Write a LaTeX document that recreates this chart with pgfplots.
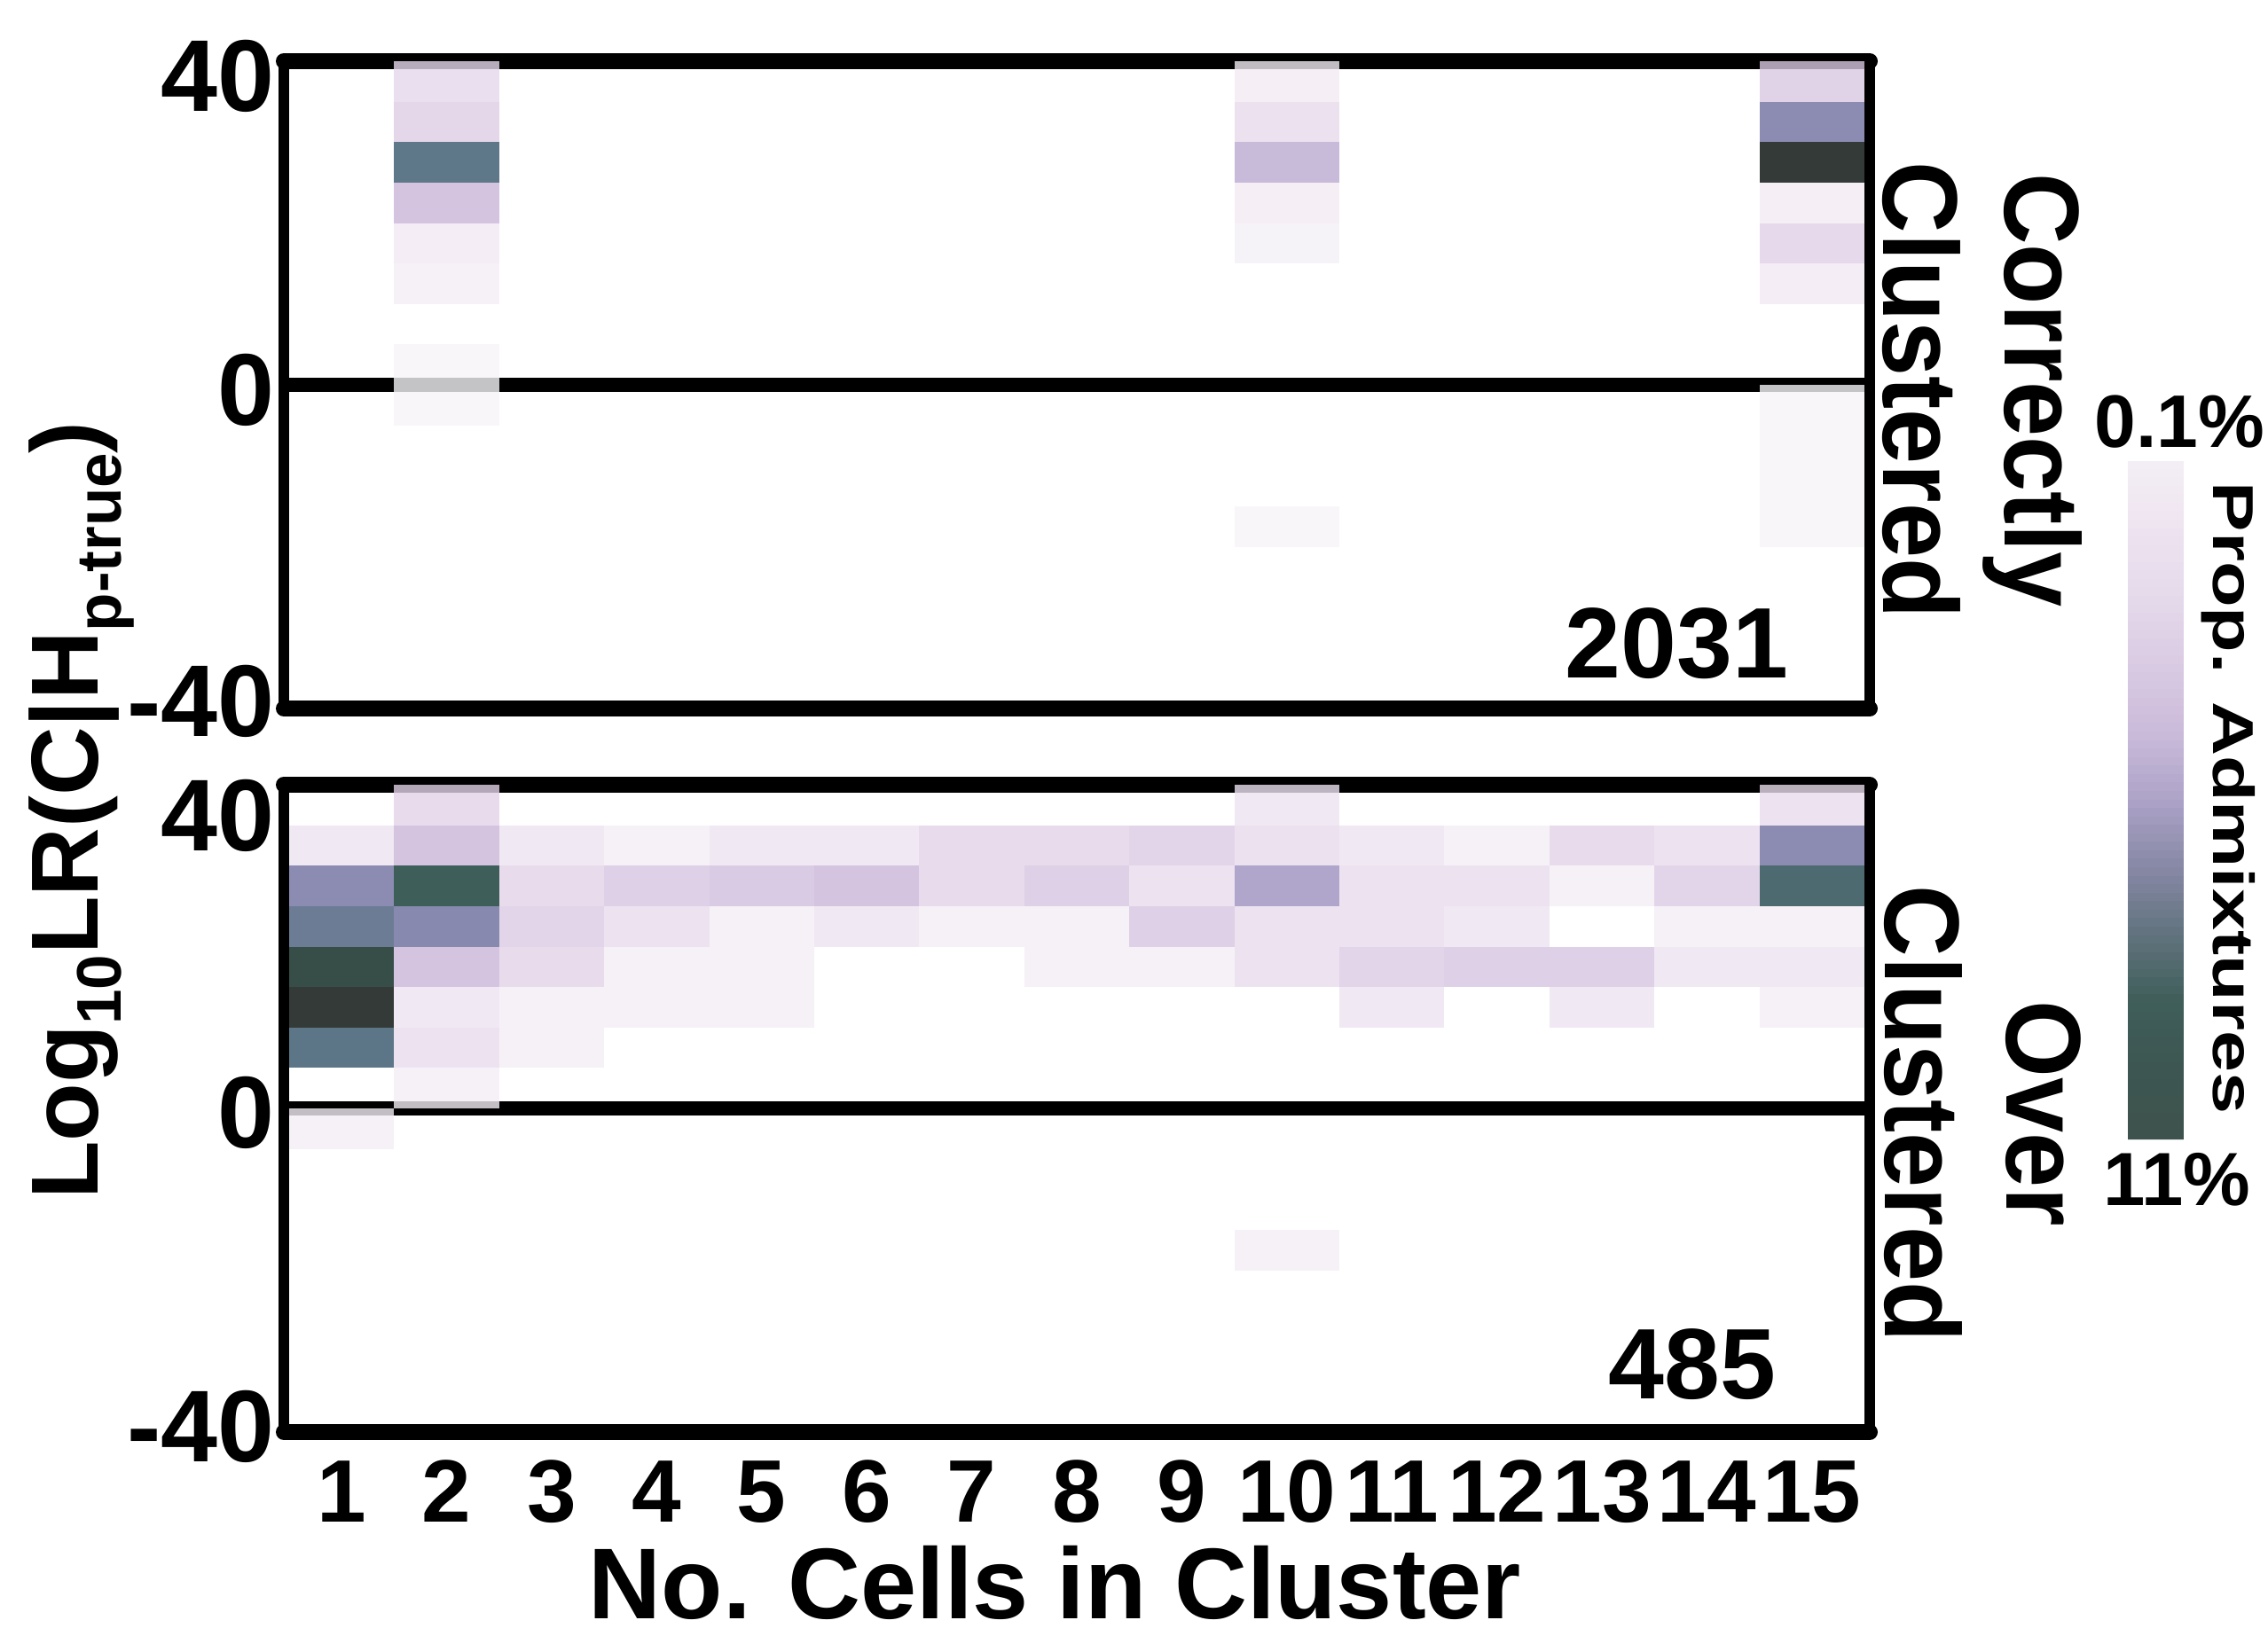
\documentclass[border=0pt]{standalone}
\usepackage{fontspec}
\setmainfont{Liberation Sans}
\usepackage{graphicx}
\usepackage{pgfplots}
\usepackage{pgfplotstable}
\pgfplotsset{compat=1.18}

% one heat-map cell: 1 x-unit wide, 5 y-units tall
\pgfdeclareplotmark{tile}{%
  \pgfpathrectangle{\pgfpoint{-11.841pt}{-4.5625pt}}{\pgfpoint{23.682pt}{9.125pt}}%
  \pgfusepathqfill}

\pgfplotstableread{
x y v
2 37.5 0.17
2 32.5 0.24
2 27.5 0.71
2 22.5 0.38
2 17.5 0.06
2 12.5 0.03
2 2.5 0.00
2 -2.5 0.00
10 37.5 0.05
10 32.5 0.15
10 27.5 0.42
10 22.5 0.05
10 17.5 0.02
10 -17.5 0.00
15 37.5 0.28
15 32.5 0.58
15 27.5 1.00
15 22.5 0.05
15 17.5 0.22
15 12.5 0.06
15 -2.5 0.00
15 -7.5 0.00
15 -12.5 0.00
15 -17.5 0.00
}\toptiles

\pgfplotstableread{
x y v
2 37.5 0.20
10 37.5 0.10
15 37.5 0.14
1 32.5 0.10
2 32.5 0.38
3 32.5 0.10
4 32.5 0.03
5 32.5 0.10
6 32.5 0.10
7 32.5 0.20
8 32.5 0.20
9 32.5 0.25
10 32.5 0.15
11 32.5 0.10
12 32.5 0.03
13 32.5 0.20
14 32.5 0.14
15 32.5 0.58
1 27.5 0.58
2 27.5 0.80
3 27.5 0.20
4 27.5 0.30
5 27.5 0.33
6 27.5 0.38
7 27.5 0.20
8 27.5 0.30
9 27.5 0.14
10 27.5 0.50
11 27.5 0.14
12 27.5 0.14
13 27.5 0.03
14 27.5 0.25
15 27.5 0.76
1 22.5 0.66
2 22.5 0.59
3 22.5 0.25
4 22.5 0.14
5 22.5 0.03
6 22.5 0.10
7 22.5 0.03
8 22.5 0.03
9 22.5 0.30
10 22.5 0.14
11 22.5 0.14
12 22.5 0.10
14 22.5 0.03
15 22.5 0.03
1 17.5 0.90
2 17.5 0.38
3 17.5 0.20
4 17.5 0.03
5 17.5 0.03
8 17.5 0.03
9 17.5 0.03
10 17.5 0.14
11 17.5 0.25
12 17.5 0.30
13 17.5 0.30
14 17.5 0.10
15 17.5 0.10
1 12.5 1.00
2 12.5 0.10
3 12.5 0.03
4 12.5 0.03
5 12.5 0.03
11 12.5 0.10
13 12.5 0.10
15 12.5 0.03
1 7.5 0.72
2 7.5 0.14
3 7.5 0.03
2 2.5 0.03
1 -2.5 0.03
10 -17.5 0.03
}\bottomtiles

\pgfplotsset{
  heat/.style={
    scale only axis, width=357.6pt, height=146pt,
    xmin=0.45, xmax=15.55, ymin=-40, ymax=40,
    separate axis lines,
    every outer x axis line/.append style={line width=3.6pt, line cap=round},
    every outer y axis line/.append style={line width=2.4pt, line cap=round},
    tick style={draw=none},
    colormap={tiles}{rgb255(0pt)=(246,244,248); rgb255(4pt)=(243,236,244);
      rgb255(10pt)=(236,226,240); rgb255(20pt)=(226,211,231);
      rgb255(30pt)=(214,196,224); rgb255(38pt)=(201,181,216);
      rgb255(50pt)=(156,144,190); rgb255(58pt)=(111,111,159);
      rgb255(66pt)=(71,91,121); rgb255(72pt)=(51,84,105);
      rgb255(80pt)=(14,54,49); rgb255(90pt)=(5,34,26); rgb255(100pt)=(0,9,5)},
    point meta min=0, point meta max=1,
    yticklabels={-40,0,40},
    yticklabel style={font=\bfseries\fontsize{23}{23}\selectfont, anchor=east, inner sep=0pt, xshift=-1.9pt},
  },
  tiles/.style={scatter, only marks, mark=tile, point meta=explicit,
    scatter/use mapped color={draw=none, fill=mapped color, fill opacity=0.8}},
  zeroline/.style={black, line width=3.3pt, forget plot},
}

\begin{document}
\begin{tikzpicture}
\useasboundingbox (0pt,0pt) rectangle (511.4pt,-369pt);

% top panel: correctly clustered
\begin{axis}[heat, at={(64pt,-159.8pt)}, anchor=south west,
  xtick=\empty, ytick={-39.1,-0.6,38.2}]
  \addplot[zeroline] coordinates {(0.45,0) (15.55,0)};
  \addplot[tiles] table[x=x, y=y, meta=v] {\toptiles};
\end{axis}

% bottom panel: over clustered
\begin{axis}[heat, at={(64pt,-323pt)}, anchor=south west,
  xtick={1,2,3,4,5,6,7,8,9,10,11,12,13,14,15},
  xticklabels={1,2,3,4,5,6,7,8,9,10,11,12,13,14,15},
  xticklabel style={font=\bfseries\fontsize{20}{20}\selectfont, anchor=base, inner sep=0pt, yshift=-20.2pt},
  ytick={-39.3,-0.5,36.2},
  colorbar sampled,
  colorbar style={
    samples=81,
    at={(parent axis.north east)}, anchor=north west,
    xshift=49.7pt, yshift=73pt,
    scale only axis, width=12.6pt, height=153pt,
    y dir=reverse, ytick=\empty, xtick=\empty,
    axis line style={draw=none},
    colormap={cbar}{rgb255=(243,239,245) rgb255=(238,228,240)
      rgb255=(229,218,235) rgb255=(218,203,228) rgb255=(203,187,218)
      rgb255=(173,163,200) rgb255=(135,136,165) rgb255=(96,115,125)
      rgb255=(63,93,89) rgb255=(61,86,81) rgb255=(62,82,77)},
  }]
  \addplot[zeroline] coordinates {(0.45,0) (15.55,0)};
  \addplot[tiles] table[x=x, y=y, meta=v] {\bottomtiles};
\end{axis}

% panel counts
\node[font=\bfseries\fontsize{22.6}{22.6}\selectfont, anchor=base east, inner sep=0pt] at (403.4pt,-152.9pt) {2031};
\node[font=\bfseries\fontsize{22.6}{22.6}\selectfont, anchor=base east, inner sep=0pt] at (400.7pt,-315.4pt) {485};

% axis labels
\node[font=\bfseries\fontsize{22.7}{22.7}\selectfont, anchor=base, inner sep=0pt] at (237.9pt,-365pt) {No. Cells in Cluster};
\node[rotate=90, anchor=base, inner sep=0pt, font=\bfseries\fontsize{21.5}{21.5}\selectfont] at (22pt,-182.8pt)
  {Log\raisebox{-5.3pt}{\fontsize{14.2}{14.2}\selectfont 10}LR(C|H\raisebox{-5.3pt}{\fontsize{14.2}{14.2}\selectfont p-true})};

% panel titles on the right
\node[rotate=-90, align=center, inner sep=0pt, font=\bfseries\fontsize{24}{27.4}\selectfont] at (447pt,-88pt)
  {\scalebox{0.93}[1]{Correctly}\\\scalebox{0.93}[1]{Clustered}};
\node[rotate=-90, align=center, inner sep=0pt, font=\bfseries\fontsize{24}{27.4}\selectfont] at (447pt,-251.2pt)
  {\scalebox{0.93}[1]{Over}\\\scalebox{0.93}[1]{Clustered}};

% colour bar labels
\node[font=\bfseries\fontsize{16.8}{16.8}\selectfont, inner sep=0pt] at (491.4pt,-95.2pt) {0.1\%};
\node[font=\bfseries\fontsize{17}{17}\selectfont, inner sep=0pt] at (490.9pt,-266pt) {11\%};
\node[rotate=-90, inner sep=0pt, font=\bfseries\fontsize{13}{13}\selectfont] at (502.4pt,-180pt)
  {\scalebox{1.3}[1]{Prop. Admixtures}};
\end{tikzpicture}
\end{document}
